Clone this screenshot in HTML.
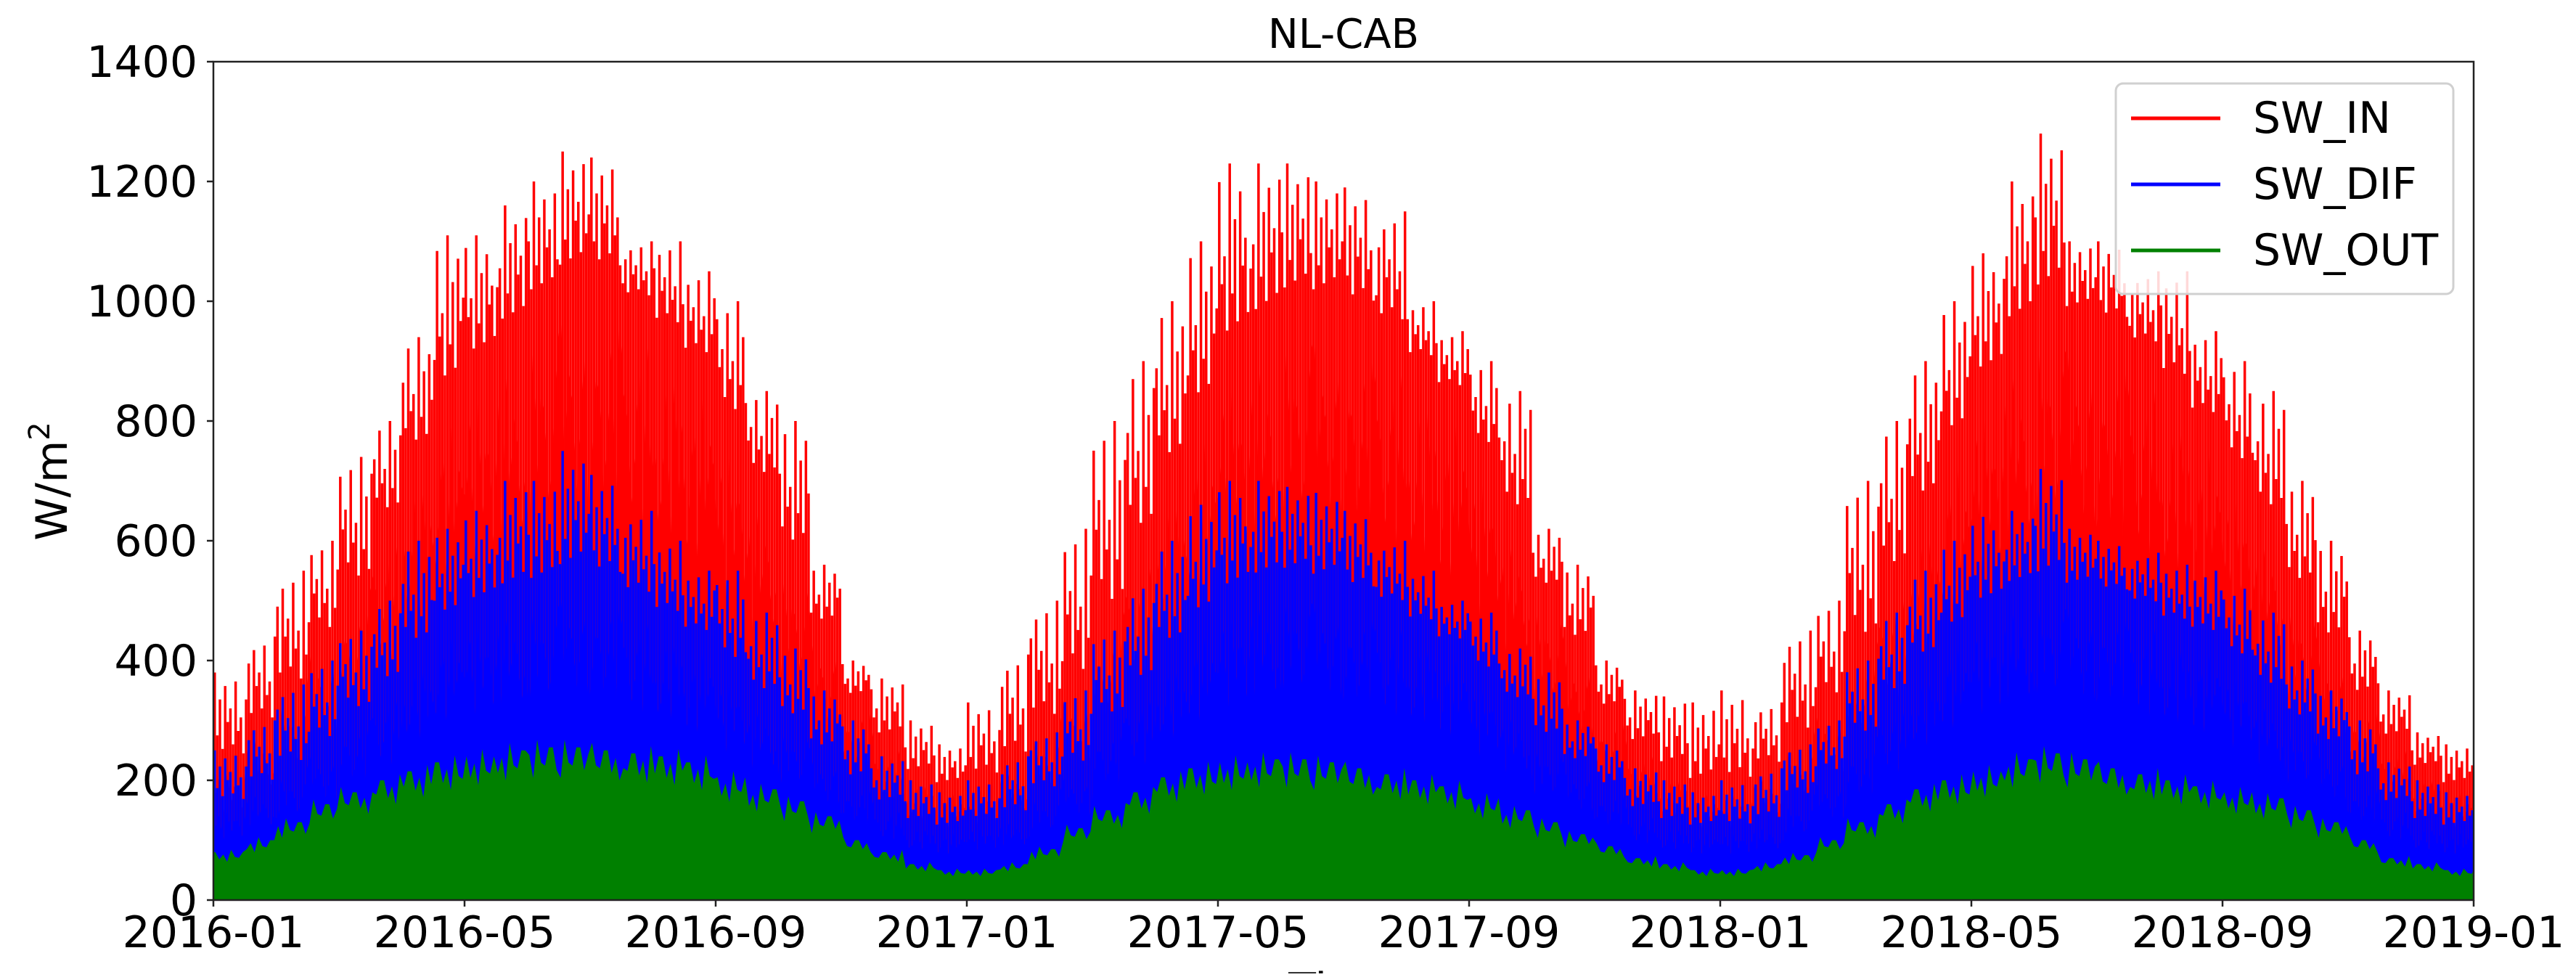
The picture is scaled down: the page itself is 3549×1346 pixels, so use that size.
<!DOCTYPE html>
<html><head><meta charset="utf-8"><style>
html,body{margin:0;padding:0;background:#fff;}
svg text{font-family:"DejaVu Sans","Liberation Sans",sans-serif;}
</style></head><body>
<svg id="chart" width="3549" height="1341" viewBox="0 0 3549 1341" xmlns="http://www.w3.org/2000/svg">
<rect width="3549" height="1341" fill="#fff"/>
<g id="plot"></g>
<g id="axes"></g>
<text x="1851" y="66" font-size="56" text-anchor="middle">NL-CAB</text>
<text transform="translate(92,663) rotate(-90)" font-size="60" text-anchor="middle">W/m<tspan font-size="40" dy="-24">2</tspan></text>
<text x="1851" y="1385" font-size="62" text-anchor="middle">Time</text>
<g>
<rect x="2915" y="115" width="465" height="290" rx="10" fill="#fff" fill-opacity="0.85" stroke="#d0d0d0" stroke-width="3"/>
<g><line x1="2936" x2="3059" y1="163" y2="163" stroke="#ff0000" stroke-width="5"/><text x="3104" y="183" font-size="60">SW_IN</text></g>
<g><line x1="2936" x2="3059" y1="254" y2="254" stroke="#0000ff" stroke-width="5"/><text x="3104" y="274" font-size="60">SW_DIF</text></g>
<g><line x1="2936" x2="3059" y1="345" y2="345" stroke="#008000" stroke-width="5"/><text x="3104" y="365" font-size="60">SW_OUT</text></g>
</g>
</svg>
<script>
// half-month values, Jan 2016 .. Dec 2018 (72 points)
const inTyp = [230,290,350,440,520,640,750,850,900,950,1000,1040,1040,1000,950,900,800,700,580,460,340,270,210,190,
200,230,290,360,470,600,720,820,920,960,1000,1000,980,950,900,850,750,640,520,430,320,260,220,190,
190,220,270,330,420,540,660,770,870,950,1000,980,960,920,860,800,720,640,520,430,340,270,220,190];
const inMax = [380,440,550,600,740,800,940,1110,1110,1160,1200,1250,1240,1100,1100,1050,1000,850,800,560,400,370,300,260,
330,410,500,620,800,900,1000,1100,1230,1230,1230,1200,1190,1150,1000,950,900,850,620,560,400,350,340,330,
350,330,450,500,700,800,900,1000,1080,1200,1280,1100,1100,1050,1050,950,900,850,700,600,450,350,280,260];
const difTyp = [160,190,220,260,310,360,420,470,490,510,520,540,530,500,470,440,390,340,300,250,200,160,130,120,
130,140,180,220,300,360,420,470,510,530,540,530,510,490,460,430,380,330,270,230,190,150,130,120,
120,130,170,210,270,340,400,450,490,520,530,520,510,490,460,440,400,350,300,260,200,160,130,120];
const difMax = [250,300,360,400,450,500,600,620,650,700,700,750,710,650,600,550,550,480,420,350,300,240,200,180,
200,240,280,350,450,520,600,660,700,700,690,680,650,600,550,500,480,420,380,300,260,220,200,180,
200,220,260,300,400,480,550,600,640,650,720,620,600,580,560,550,520,480,400,350,300,230,200,180];
const outTyp = [80,100,130,160,180,200,215,230,240,250,255,255,250,245,240,230,205,185,165,140,100,80,60,50,
50,60,85,120,150,180,205,220,230,235,235,230,220,210,200,190,170,150,130,110,90,70,60,50,
50,60,75,100,130,160,185,200,215,235,245,235,220,210,200,190,180,170,150,130,100,70,60,50];
const xTickLabels = ["2016-01","2016-05","2016-09","2017-01","2017-05","2017-09","2018-01","2018-05","2018-09","2019-01"];
const yTickValues = [0,200,400,600,800,1000,1200,1400];

const L=294,R=3408,T=85,B=1240,NM=36;
const xS=m=>L+(m/NM)*(R-L);
const yS=v=>B-(v/1400)*(B-T);
const NS="http://www.w3.org/2000/svg";
const plot=document.getElementById('plot'), axes=document.getElementById('axes');
function mk(tag,attrs,parent){const e=document.createElementNS(NS,tag);for(const k in attrs)e.setAttribute(k,attrs[k]);parent.appendChild(e);return e;}
const pattern=[1,0.3,0.7,0.15,0.85,0.45,0.6,0.2,0.9,0.35,0.5,0.1];
const low=[0.75,0.9,0.6,0.95,0.7,0.85,0.8,0.65];

function area(typ,color,name,dip){
  let d=`M${xS(0)},${B} L${xS(0)},${yS(typ[0]*dip[0])}`;
  typ.forEach((v,i)=>{
    const n=dip.length;
    for(let k=0;k<n;k++){const m=i/2+(k+0.5)/(2*n);d+=` L${xS(m)},${yS(v*dip[(k+i)%n])}`;}
  });
  d+=` L${xS(NM)},${yS(typ[typ.length-1]*dip[0])} L${xS(NM)},${B} Z`;
  const p=mk('path',{d:d,fill:color},plot);
  
  
}
function spikes(typ,max,color,name){
  const g=mk('g',{},plot);
  
  
  typ.forEach((v,i)=>{
    const n=pattern.length;
    for(let k=0;k<n;k++){
      const m=i/2+(k+0.5)/(2*n);
      const h=v+(max[i]-v)*pattern[(k+i)%n];
      mk('line',{x1:xS(m),x2:xS(m),y1:B,y2:yS(h),stroke:color,'stroke-width':3.5},g);
    }
  });
}
area(inTyp,'#ff0000','sw-in-area',low);
spikes(inTyp,inMax,'#ff0000','sw-in-spikes');
area(difTyp,'#0000ff','sw-dif-area',low);
spikes(difTyp,difMax,'#0000ff','sw-dif-spikes');
area(outTyp,'#008000','sw-out-area',[1,0.85,0.95,0.8,1.05,0.9,0.88,1]);

// axes frame
const fr=mk('rect',{x:L,y:T,width:R-L,height:B-T,fill:'none',stroke:'#222','stroke-width':2.5},axes);


yTickValues.forEach(v=>{
  const y=yS(v);
  mk('line',{x1:L-9,x2:L,y1:y,y2:y,stroke:'#222','stroke-width':2.5},axes);
  const t=mk('text',{x:L-22,y:y+21,'font-size':60,'text-anchor':'end'},axes);
  t.textContent=v;
  
  
});
xTickLabels.forEach((lab,i)=>{
  const x=xS(i*4);
  mk('line',{x1:x,x2:x,y1:B,y2:B+9,stroke:'#222','stroke-width':2.5},axes);
  const t=mk('text',{x:x,y:1305,'font-size':60,'text-anchor':'middle'},axes);
  t.textContent=lab;
  
  
});
</script>
</body></html>
